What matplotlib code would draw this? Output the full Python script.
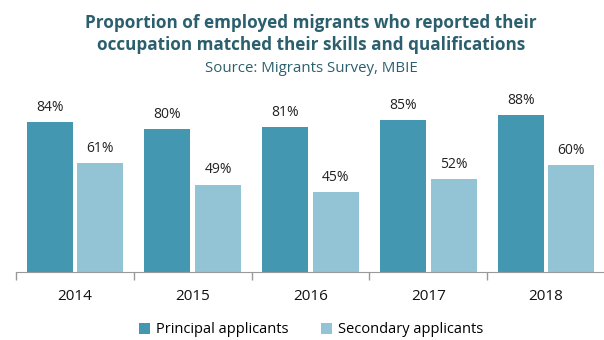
import matplotlib.pyplot as plt
import numpy as np

years = ['2014', '2015', '2016', '2017', '2018']
principal = [84, 80, 81, 85, 88]
secondary = [61, 49, 45, 52, 60]

c_prin = '#4397b0'
c_sec = '#93c4d5'
c_title = '#2b5f6e'

plt.rcParams['font.family'] = ['Open Sans', 'DejaVu Sans']

fig = plt.figure(figsize=(6.04, 3.4), dpi=100)
ax = fig.add_axes([16/604, 0.2, (605-16)/604, 0.525])

x = np.arange(len(years))
w = 0.39
b1 = ax.bar(x - 0.215, principal, w, color=c_prin, label='Principal applicants')
b2 = ax.bar(x + 0.215, secondary, w, color=c_sec, label='Secondary applicants')

# value labels on top of bars
for bars in (b1, b2):
    for b in bars:
        ax.text(b.get_x() + b.get_width()/2, b.get_height() + 4, f'{b.get_height():.0f}%',
                ha='center', va='bottom', fontsize=10, color='#222222')

ax.set_xlim(-0.5, 4.5)
ax.set_ylim(0, 100)
ax.set_yticks([])
# ticks between categories, labels in the middle
ax.set_xticks(np.arange(-0.5, 5, 1))
ax.set_xticklabels([])
ax.set_xticks(x, minor=True)
ax.set_xticklabels(years, minor=True, fontsize=11, color='#111111')
ax.tick_params(axis='x', which='major', length=6, color='#999999', width=1)
ax.tick_params(axis='x', which='minor', length=0, pad=12)
for s in ['top', 'right', 'left']:
    ax.spines[s].set_visible(False)
ax.spines['bottom'].set_color('#999999')

fig.text(0.515, 0.9, 'Proportion of employed migrants who reported their\noccupation matched their skills and qualifications',
         ha='center', va='center', fontsize=12.3, fontweight='bold', color=c_title, linespacing=1.35)
fig.text(0.515, 0.8, 'Source: Migrants Survey, MBIE', ha='center', va='center', fontsize=10.8, color=c_title)

fig.legend(handles=[b1, b2], loc='center', bbox_to_anchor=(0.515, 0.03), ncol=2, frameon=False,
           fontsize=10.5, handlelength=0.8, handleheight=0.8, handletextpad=0.4, columnspacing=2.2)

fig.savefig('out.png', dpi=100)
